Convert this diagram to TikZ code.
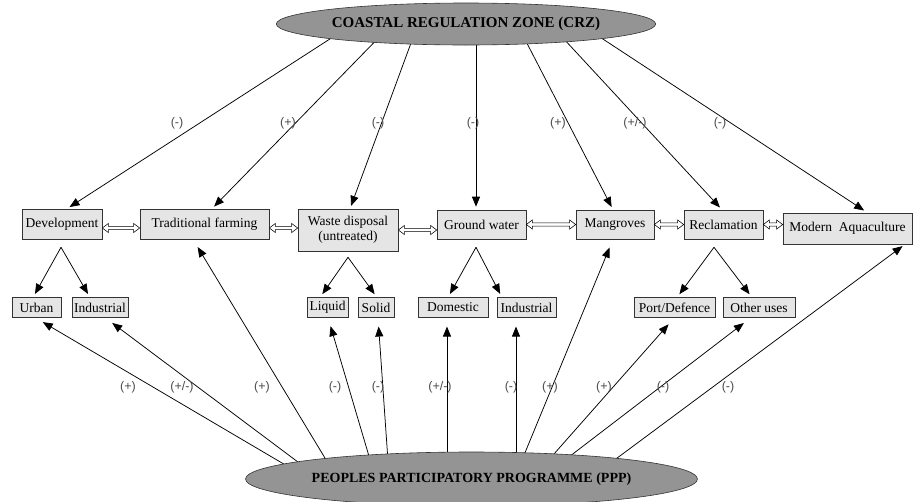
\documentclass[tikz,border=0pt]{standalone}
\usepackage{fontspec}
\setmainfont{Liberation Serif}
\newfontfamily\lblfont{Liberation Sans}
\usetikzlibrary{arrows.meta,shapes.geometric,calc,backgrounds}
\begin{document}
\begin{tikzpicture}[x=1pt,y=-1pt,
  box/.style={draw=black!80, fill=black!10, line width=0.6pt, inner sep=0pt,
    font=\fontsize{13.5}{15}\selectfont, align=center},
  lbl/.style={font=\lblfont\fontsize{12.5}{14}\selectfont, text=black!70, inner sep=0pt},
  arr/.style={line width=0.75pt, -{Triangle[length=10pt,width=8pt]}},
  dblarr/.style={draw=black, fill=white, line width=0.55pt, line join=miter,
    to path={let \p1=(\tikztostart), \p2=(\tikztotarget) in
      (\x1,\y1) -- (\x1+6pt,\y1+4.5pt) -- (\x1+6pt,\y1+1.6pt) -- (\x2-6pt,\y1+1.6pt)
      -- (\x2-6pt,\y1+4.5pt) -- (\x2,\y1) -- (\x2-6pt,\y1-4.5pt) -- (\x2-6pt,\y1-1.6pt)
      -- (\x1+6pt,\y1-1.6pt) -- (\x1+6pt,\y1-4.5pt) -- cycle}},
  oval/.style={ellipse, draw=black!80, fill=black!42, line width=0.6pt, inner sep=0pt}]
\useasboundingbox (0,0) rectangle (913,501);
% ellipses
\node[oval, minimum width=298pt, minimum height=42pt,
  font=\bfseries\fontsize{15}{17}\selectfont] (crz) at (466,24) {COASTAL REGULATION ZONE (CRZ)};
\node[oval, minimum width=347pt, minimum height=54pt,
  font=\bfseries\fontsize{14}{16}\selectfont] (ppp) at (471.5,479) {\raisebox{-3pt}{PEOPLES PARTICIPATORY PROGRAMME (PPP)}};
% middle row
\node[box, minimum width=80pt, minimum height=30pt] (dev) at (62,224) {Development};
\node[box, minimum width=129pt, minimum height=30pt] (trad) at (204.5,224) {Traditional farming};
\node[box, minimum width=100pt, minimum height=42pt] (waste) at (348,230) {Waste disposal\\(untreated)};
\node[box, minimum width=89pt, minimum height=29pt] (ground) at (481.5,224.5) {Ground water};
\node[box, minimum width=78pt, minimum height=29pt] (mang) at (615,224.5) {Mangroves};
\node[box, minimum width=79pt, minimum height=29pt] (recl) at (723.5,224.5) {Reclamation};
\node[box, minimum width=129pt, minimum height=31pt] (aqua) at (847.5,228.5) {Modern~ Aquaculture};
% bottom row
\node[box, minimum width=49pt, minimum height=19.5pt] (urban) at (36.5,307.5) {Urban};
\node[box, minimum width=56pt, minimum height=19.5pt] (indA) at (100,307.5) {Industrial};
\node[box, minimum width=41pt, minimum height=19.5pt] (liquid) at (327.5,307.5) {Liquid};
\node[box, minimum width=36pt, minimum height=19.5pt] (solid) at (376,307.5) {Solid};
\node[box, minimum width=70pt, minimum height=19.5pt] (dom) at (453,307.5) {Domestic};
\node[box, minimum width=59pt, minimum height=19.5pt] (indB) at (526.5,307.5) {Industrial};
\node[box, minimum width=81pt, minimum height=19.5pt] (port) at (674.5,307.5) {Port/Defence};
\node[box, minimum width=72pt, minimum height=19.5pt] (other) at (759,307.5) {Other uses};
% labels top
\node[lbl] (lt1) at (177,123) {(-)};
\node[lbl] (lt2) at (288,123) {(+)};
\node[lbl] (lt3) at (378,123) {(-)};
\node[lbl] (lt4) at (473,123) {(-)};
\node[lbl] (lt5) at (558,123) {(+)};
\node[lbl] (lt6) at (635,123) {(+/-)};
\node[lbl] (lt7) at (720,123) {(-)};
% labels bottom
\node[lbl] (lb1) at (128,387) {(+)};
\node[lbl] (lb2) at (182,387) {(+/-)};
\node[lbl] (lb3) at (262,387) {(+)};
\node[lbl] (lb4) at (335,387) {(-)};
\node[lbl] (lb5) at (378,387) {(-)};
\node[lbl] (lb6) at (440,387) {(+/-)};
\node[lbl] (lb7) at (511,387) {(-)};
\node[lbl] (lb8) at (550,387) {(+)};
\node[lbl] (lb9) at (604,387) {(+)};
\node[lbl] (lb10) at (663,387) {(-)};
\node[lbl] (lb11) at (728,387) {(-)};
% start coordinates (inside the ellipses)
\coordinate (t1) at (350,26);
\coordinate (t2) at (392,24);
\coordinate (t3) at (418,24);
\coordinate (t4) at (476,24);
\coordinate (t5) at (517,24);
\coordinate (t6) at (550,24);
\coordinate (t7) at (580,24);
\coordinate (b1) at (316,483);
\coordinate (b2) at (322,480);
\coordinate (b3) at (334,473);
\coordinate (b4) at (371,463);
\coordinate (b5) at (388,461);
\coordinate (b6) at (447,461);
\coordinate (b7) at (516,463);
\coordinate (b8) at (522,460);
\coordinate (b9) at (546,463);
\coordinate (b10) at (561,463);
\coordinate (b11) at (601,470);
% branch apexes
\coordinate (devb) at ($(dev.south)+(-1,8)$);
\coordinate (wasteb) at ($(waste.south)+(0,6)$);
\coordinate (groundb) at ($(ground.south)+(-5.5,8)$);
\coordinate (reclb) at ($(recl.south)+(-9.5,8)$);
\begin{pgfonlayer}{background}
% CRZ to middle row
\draw[arr, shorten >=3pt] (t1) -- ($(dev.north)+(5,0)$);
\draw[arr, shorten >=3pt] (t2) -- ($(trad.north)+(7.5,0)$);
\draw[arr, shorten >=3pt] (t3) -- ($(waste.north)+(2,0)$);
\draw[arr, shorten >=3pt] (t4) -- ($(ground.north)+(-5.5,0)$);
\draw[arr, shorten >=3pt] (t5) -- ($(mang.north)+(-2,0)$);
\draw[arr, shorten >=3pt] (t6) -- ($(recl.north)+(-1.5,0)$);
\draw[arr, shorten >=4pt] (t7) -- ($(aqua.north)+(20,0)$);
% PPP to boxes
\draw[arr, shorten >=9pt] (b1) -- ($(urban.south)+(-1.5,0)$);
\draw[arr, shorten >=9pt] (b2) -- ($(indA.south)+(5,0)$);
\draw[arr, shorten >=9pt] (b3) -- ($(trad.south)+(-11.5,0)$);
\draw[arr, shorten >=9pt] (b4) -- ($(liquid.south)+(0.5,0)$);
\draw[arr, shorten >=9pt] (b5) -- ($(solid.south)+(2,0)$);
\draw[arr, shorten >=9pt] (b6) -- ($(dom.south)+(-6,0)$);
\draw[arr, shorten >=9pt] (b7) -- ($(indB.south)+(-10.5,0)$);
\draw[arr, shorten >=9pt] (b8) -- ($(mang.south)+(-2,0)$);
\draw[arr, shorten >=9pt] (b9) -- ($(port.south)+(0,0)$);
\draw[arr, shorten >=9pt] (b10) -- ($(other.south)+(-8,0)$);
\draw[arr, shorten >=3pt] (b11) -- ($(aqua.south)+(57.5,0)$);
\end{pgfonlayer}
% branches
\draw[arr, shorten >=4pt] (devb) -- ($(urban.north)+(-3.5,0)$);
\draw[arr, shorten >=4pt] (devb) -- ($(indA.north)+(-10,0)$);
\draw[arr, shorten >=4pt] (wasteb) -- ($(liquid.north)+(-7.5,0)$);
\draw[arr, shorten >=4pt] (wasteb) -- ($(solid.north)+(1,0)$);
\draw[arr, shorten >=4pt] (groundb) -- ($(dom.north)+(-5,0)$);
\draw[arr, shorten >=4pt] (groundb) -- ($(indB.north)+(-24.5,0)$);
\draw[arr, shorten >=4pt] (reclb) -- ($(port.north)+(2.5,0)$);
\draw[arr, shorten >=4pt] (reclb) -- ($(other.north)+(-7,0)$);
% double arrows
\draw[dblarr] ([yshift=-4pt]dev.east) to (trad.west);
\draw[dblarr] ([yshift=-4pt]trad.east) to (waste.west);
\draw[dblarr] (waste.east) to (ground.west);
\draw[dblarr] (ground.east) to (mang.west);
\draw[dblarr] (mang.east) to (recl.west);
\draw[dblarr] (recl.east) to (aqua.west);
\end{tikzpicture}
\end{document}
